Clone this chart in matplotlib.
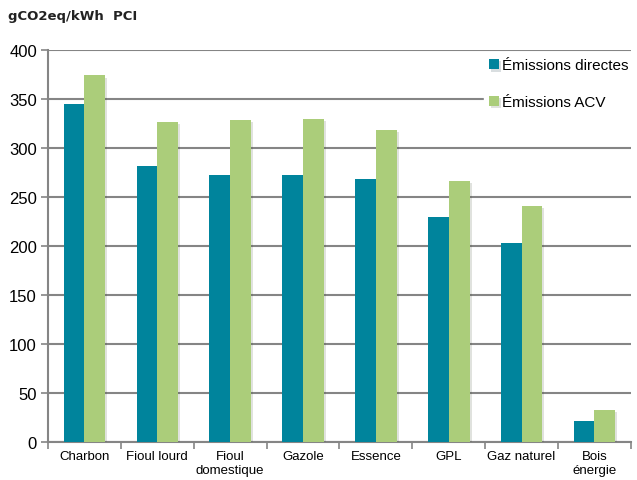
import numpy as np
import matplotlib
matplotlib.use("Agg")
import matplotlib.pyplot as plt
import matplotlib.patheffects as pe

categories = ["Charbon", "Fioul lourd", "Fioul\ndomestique", "Gazole",
              "Essence", "GPL", "Gaz naturel", "Bois\nénergie"]
directes = [345, 282, 272, 272, 268, 230, 203, 21]
acv = [374, 327, 329, 330, 318, 266, 241, 33]

teal = "#00849C"
green = "#ABCD7A"
grey = "#858585"

plt.rcParams['font.family'] = ['Liberation Sans', 'DejaVu Sans']

fig = plt.figure(figsize=(6.37, 4.81), dpi=100)
ax = fig.add_axes([0.0754, 0.079, 0.915, 0.815])

x = np.arange(len(categories))
w = 0.285
shadow = [pe.SimplePatchShadow(offset=(1.5, -1.5), alpha=0.15), pe.Normal()]
b1 = ax.bar(x - w / 2, directes, w, color=teal, label="Émissions directes", zorder=3)
b2 = ax.bar(x + w / 2, acv, w, color=green, label="Émissions ACV", zorder=3)
for b in list(b1) + list(b2):
    b.set_path_effects(shadow)

ax.set_xlim(-0.5, len(categories) - 0.5)
ax.set_ylim(0, 400)
ax.set_yticks(range(0, 401, 50))
ax.set_xticks(np.arange(-0.5, len(categories), 1), minor=False)
ax.set_xticklabels([])
ax.set_xticks(x, minor=True)
ax.set_xticklabels(categories, minor=True, fontsize=9.5, linespacing=1.15)
ax.tick_params(axis="x", which="minor", length=0, pad=6)
ax.tick_params(axis="x", which="major", length=5, color=grey, width=1.2)
ax.tick_params(axis="y", length=5, color=grey, width=1.2, labelsize=12, pad=3)

ax.yaxis.grid(True, color=grey, linewidth=1.5, zorder=0)
ax.set_axisbelow(True)
for s in ["top", "right"]:
    ax.spines[s].set_visible(False)
for s in ["left", "bottom"]:
    ax.spines[s].set_color(grey)
    ax.spines[s].set_linewidth(1.5)

leg = ax.legend(loc="upper left", frameon=True,
                fontsize=11, handlelength=0.7, handleheight=0.7, handletextpad=0.2,
                labelspacing=1.5, borderaxespad=0, borderpad=0.3)
leg.get_frame().set_edgecolor("white")
leg.get_frame().set_facecolor("white")
leg.get_frame().set_alpha(1)
leg.set_bbox_to_anchor((0.748, 0.99), transform=ax.transAxes)
leg.set_zorder(5)

fig.text(0.013, 0.965, "gCO2eq/kWh  PCI", fontsize=9.5, fontweight="bold",
         family=["DejaVu Sans"], color="#222222", va="center")

fig.savefig("out.png", dpi=100)
